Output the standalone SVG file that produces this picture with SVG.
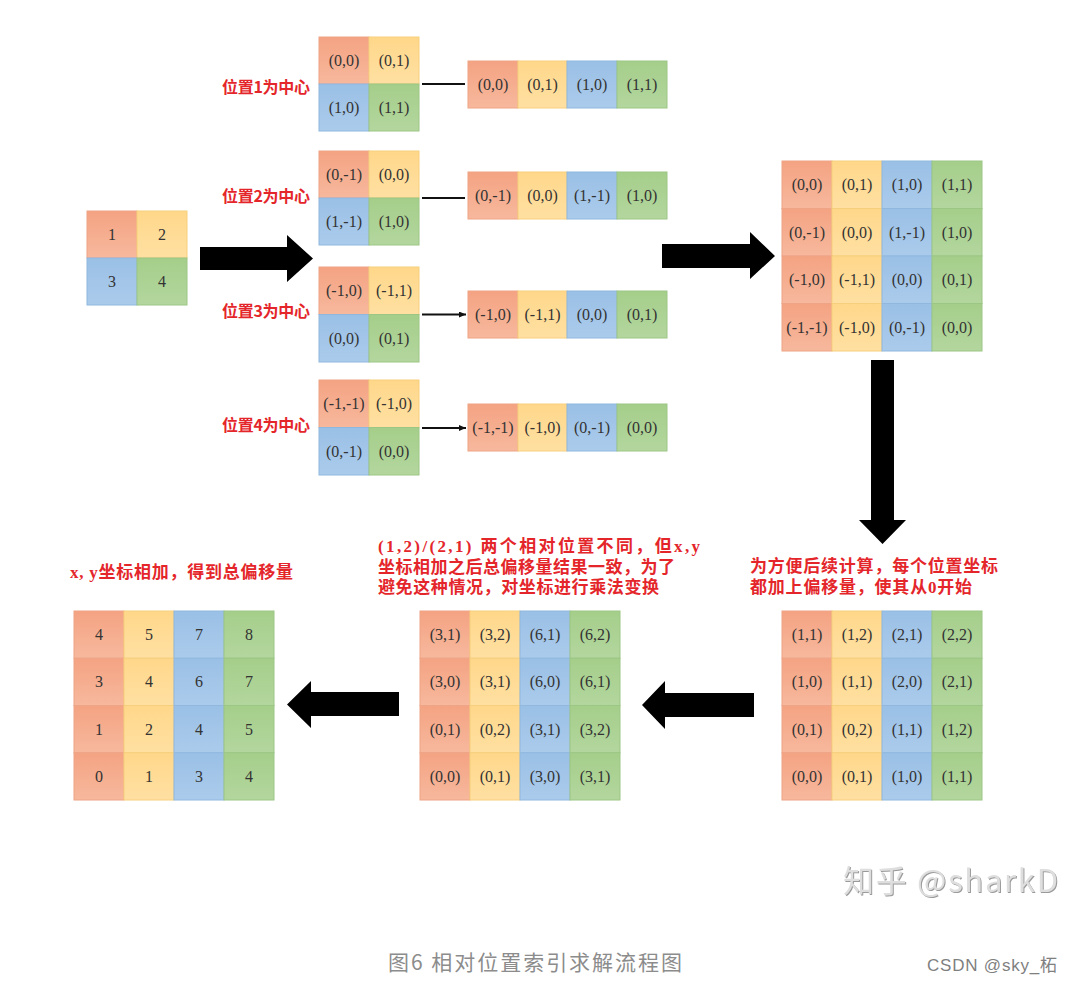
<svg xmlns="http://www.w3.org/2000/svg" width="1073" height="983" viewBox="0 0 1073 983">
<defs>
<linearGradient id="gO" x1="0" y1="0" x2="0" y2="1"><stop offset="0" stop-color="#F4A382"/><stop offset="1" stop-color="#F7B89D"/></linearGradient>
<linearGradient id="gY" x1="0" y1="0" x2="0" y2="1"><stop offset="0" stop-color="#FFD78A"/><stop offset="1" stop-color="#FFE0A2"/></linearGradient>
<linearGradient id="gB" x1="0" y1="0" x2="0" y2="1"><stop offset="0" stop-color="#9AC0E6"/><stop offset="1" stop-color="#ABCBEB"/></linearGradient>
<linearGradient id="gG" x1="0" y1="0" x2="0" y2="1"><stop offset="0" stop-color="#A5CE8A"/><stop offset="1" stop-color="#B3D69E"/></linearGradient>
<marker id="ah" markerWidth="7" markerHeight="6" refX="7" refY="3" orient="auto" markerUnits="userSpaceOnUse"><path d="M0,0 L7,3 L0,6z" fill="#111"/></marker>
<filter id="emb" x="-5%" y="-20%" width="110%" height="140%"><feDropShadow dx="1" dy="1" stdDeviation="0.6" flood-color="#9a9a9a"/></filter>
</defs>
<style>
.o{fill:url(#gO);stroke:#EEA486;stroke-width:1}
.y{fill:url(#gY);stroke:#F6CF7C;stroke-width:1}
.b{fill:url(#gB);stroke:#90B8DF;stroke-width:1}
.g{fill:url(#gG);stroke:#9CC684;stroke-width:1}
.t{font-family:"Liberation Serif",serif;font-size:16px;fill:#333;text-anchor:middle}
.lbl{font-family:"Noto Sans CJK SC",sans-serif;font-weight:bold;font-size:16px;fill:#E4262B}
.note{font-family:"Liberation Serif","Noto Sans CJK SC",serif;font-weight:bold;font-size:17px;fill:#E4262B}
.blk{fill:#000}
.ln{stroke:#111;stroke-width:2;fill:none}
</style>
<rect width="1073" height="983" fill="#fff"/>

<g id="src">
<rect class="o" x="87" y="211" width="50" height="47"/><rect class="y" x="137" y="211" width="50" height="47"/>
<rect class="b" x="87" y="258" width="50" height="47"/><rect class="g" x="137" y="258" width="50" height="47"/>
<text class="t" x="112" y="240">1</text><text class="t" x="162" y="240">2</text>
<text class="t" x="112" y="287">3</text><text class="t" x="162" y="287">4</text>
</g>

<g id="label1"><text class="lbl" x="222" y="93" textLength="88">位置1为中心</text></g>
<g id="label2"><text class="lbl" x="222" y="202" textLength="88">位置2为中心</text></g>
<g id="label3"><text class="lbl" x="222" y="317" textLength="88">位置3为中心</text></g>
<g id="label4"><text class="lbl" x="222" y="431" textLength="88">位置4为中心</text></g>

<g id="g1">
<rect class="o" x="319" y="37" width="50" height="47"/><rect class="y" x="369" y="37" width="50" height="47"/>
<rect class="b" x="319" y="84" width="50" height="47"/><rect class="g" x="369" y="84" width="50" height="47"/>
<text class="t" x="344" y="66">(0,0)</text><text class="t" x="394" y="66">(0,1)</text>
<text class="t" x="344" y="113">(1,0)</text><text class="t" x="394" y="113">(1,1)</text>
</g>
<g id="g2">
<rect class="o" x="319" y="151" width="50" height="47"/><rect class="y" x="369" y="151" width="50" height="47"/>
<rect class="b" x="319" y="198" width="50" height="47"/><rect class="g" x="369" y="198" width="50" height="47"/>
<text class="t" x="344" y="180">(0,-1)</text><text class="t" x="394" y="180">(0,0)</text>
<text class="t" x="344" y="227">(1,-1)</text><text class="t" x="394" y="227">(1,0)</text>
</g>
<g id="g3">
<rect class="o" x="319" y="267" width="50" height="47.5"/><rect class="y" x="369" y="267" width="50" height="47.5"/>
<rect class="b" x="319" y="314.5" width="50" height="47.5"/><rect class="g" x="369" y="314.5" width="50" height="47.5"/>
<text class="t" x="344" y="296.3">(-1,0)</text><text class="t" x="394" y="296.3">(-1,1)</text>
<text class="t" x="344" y="343.8">(0,0)</text><text class="t" x="394" y="343.8">(0,1)</text>
</g>
<g id="g4">
<rect class="o" x="319" y="380" width="50" height="47.5"/><rect class="y" x="369" y="380" width="50" height="47.5"/>
<rect class="b" x="319" y="427.5" width="50" height="47.5"/><rect class="g" x="369" y="427.5" width="50" height="47.5"/>
<text class="t" x="344" y="409.3">(-1,-1)</text><text class="t" x="394" y="409.3">(-1,0)</text>
<text class="t" x="344" y="456.8">(0,-1)</text><text class="t" x="394" y="456.8">(0,0)</text>
</g>

<g id="s1">
<rect class="o" x="468" y="61" width="50" height="47"/><rect class="y" x="518" y="61" width="49" height="47"/><rect class="b" x="567" y="61" width="50" height="47"/><rect class="g" x="617" y="61" width="50" height="47"/>
<text class="t" x="493" y="90">(0,0)</text><text class="t" x="542.5" y="90">(0,1)</text><text class="t" x="592" y="90">(1,0)</text><text class="t" x="642" y="90">(1,1)</text>
</g>
<g id="s2">
<rect class="o" x="468" y="172" width="50" height="47"/><rect class="y" x="518" y="172" width="49" height="47"/><rect class="b" x="567" y="172" width="50" height="47"/><rect class="g" x="617" y="172" width="50" height="47"/>
<text class="t" x="493" y="201">(0,-1)</text><text class="t" x="542.5" y="201">(0,0)</text><text class="t" x="592" y="201">(1,-1)</text><text class="t" x="642" y="201">(1,0)</text>
</g>
<g id="s3">
<rect class="o" x="468" y="291" width="50" height="47"/><rect class="y" x="518" y="291" width="49" height="47"/><rect class="b" x="567" y="291" width="50" height="47"/><rect class="g" x="617" y="291" width="50" height="47"/>
<text class="t" x="493" y="320">(-1,0)</text><text class="t" x="542.5" y="320">(-1,1)</text><text class="t" x="592" y="320">(0,0)</text><text class="t" x="642" y="320">(0,1)</text>
</g>
<g id="s4">
<rect class="o" x="468" y="404" width="50" height="47"/><rect class="y" x="518" y="404" width="49" height="47"/><rect class="b" x="567" y="404" width="50" height="47"/><rect class="g" x="617" y="404" width="50" height="47"/>
<text class="t" x="493" y="433">(-1,-1)</text><text class="t" x="542.5" y="433">(-1,0)</text><text class="t" x="592" y="433">(0,-1)</text><text class="t" x="642" y="433">(0,0)</text>
</g>

<g id="m1">
<rect class="o" x="782" y="161" width="50" height="47.5"/><rect class="y" x="832" y="161" width="50" height="47.5"/><rect class="b" x="882" y="161" width="50" height="47.5"/><rect class="g" x="932" y="161" width="50" height="47.5"/>
<rect class="o" x="782" y="208.5" width="50" height="47.5"/><rect class="y" x="832" y="208.5" width="50" height="47.5"/><rect class="b" x="882" y="208.5" width="50" height="47.5"/><rect class="g" x="932" y="208.5" width="50" height="47.5"/>
<rect class="o" x="782" y="256" width="50" height="47.5"/><rect class="y" x="832" y="256" width="50" height="47.5"/><rect class="b" x="882" y="256" width="50" height="47.5"/><rect class="g" x="932" y="256" width="50" height="47.5"/>
<rect class="o" x="782" y="303.5" width="50" height="47.5"/><rect class="y" x="832" y="303.5" width="50" height="47.5"/><rect class="b" x="882" y="303.5" width="50" height="47.5"/><rect class="g" x="932" y="303.5" width="50" height="47.5"/>
<text class="t" x="807" y="190.3">(0,0)</text><text class="t" x="857" y="190.3">(0,1)</text><text class="t" x="907" y="190.3">(1,0)</text><text class="t" x="957" y="190.3">(1,1)</text>
<text class="t" x="807" y="237.8">(0,-1)</text><text class="t" x="857" y="237.8">(0,0)</text><text class="t" x="907" y="237.8">(1,-1)</text><text class="t" x="957" y="237.8">(1,0)</text>
<text class="t" x="807" y="285.3">(-1,0)</text><text class="t" x="857" y="285.3">(-1,1)</text><text class="t" x="907" y="285.3">(0,0)</text><text class="t" x="957" y="285.3">(0,1)</text>
<text class="t" x="807" y="332.8">(-1,-1)</text><text class="t" x="857" y="332.8">(-1,0)</text><text class="t" x="907" y="332.8">(0,-1)</text><text class="t" x="957" y="332.8">(0,0)</text>
</g>

<g id="note1">
<text class="note" x="750" y="572" textLength="248">为方便后续计算，每个位置坐标</text>
<text class="note" x="750" y="593" textLength="222">都加上偏移量，使其从0开始</text>
</g>

<g id="m2">
<rect class="o" x="782" y="611" width="50" height="47.25"/><rect class="y" x="832" y="611" width="50" height="47.25"/><rect class="b" x="882" y="611" width="50" height="47.25"/><rect class="g" x="932" y="611" width="50" height="47.25"/>
<rect class="o" x="782" y="658.25" width="50" height="47.25"/><rect class="y" x="832" y="658.25" width="50" height="47.25"/><rect class="b" x="882" y="658.25" width="50" height="47.25"/><rect class="g" x="932" y="658.25" width="50" height="47.25"/>
<rect class="o" x="782" y="705.5" width="50" height="47.25"/><rect class="y" x="832" y="705.5" width="50" height="47.25"/><rect class="b" x="882" y="705.5" width="50" height="47.25"/><rect class="g" x="932" y="705.5" width="50" height="47.25"/>
<rect class="o" x="782" y="752.75" width="50" height="47.25"/><rect class="y" x="832" y="752.75" width="50" height="47.25"/><rect class="b" x="882" y="752.75" width="50" height="47.25"/><rect class="g" x="932" y="752.75" width="50" height="47.25"/>
<text class="t" x="807" y="640.1">(1,1)</text><text class="t" x="857" y="640.1">(1,2)</text><text class="t" x="907" y="640.1">(2,1)</text><text class="t" x="957" y="640.1">(2,2)</text>
<text class="t" x="807" y="687.4">(1,0)</text><text class="t" x="857" y="687.4">(1,1)</text><text class="t" x="907" y="687.4">(2,0)</text><text class="t" x="957" y="687.4">(2,1)</text>
<text class="t" x="807" y="734.6">(0,1)</text><text class="t" x="857" y="734.6">(0,2)</text><text class="t" x="907" y="734.6">(1,1)</text><text class="t" x="957" y="734.6">(1,2)</text>
<text class="t" x="807" y="781.9">(0,0)</text><text class="t" x="857" y="781.9">(0,1)</text><text class="t" x="907" y="781.9">(1,0)</text><text class="t" x="957" y="781.9">(1,1)</text>
</g>

<g id="note2">
<text class="note" x="378" y="552" textLength="322">(1,2)/(2,1) 两个相对位置不同，但x,y</text>
<text class="note" x="378" y="573" textLength="297">坐标相加之后总偏移量结果一致，为了</text>
<text class="note" x="378" y="593" textLength="281">避免这种情况，对坐标进行乘法变换</text>
</g>

<g id="m3">
<rect class="o" x="420" y="611" width="50" height="47.25"/><rect class="y" x="470" y="611" width="50" height="47.25"/><rect class="b" x="520" y="611" width="50" height="47.25"/><rect class="g" x="570" y="611" width="50" height="47.25"/>
<rect class="o" x="420" y="658.25" width="50" height="47.25"/><rect class="y" x="470" y="658.25" width="50" height="47.25"/><rect class="b" x="520" y="658.25" width="50" height="47.25"/><rect class="g" x="570" y="658.25" width="50" height="47.25"/>
<rect class="o" x="420" y="705.5" width="50" height="47.25"/><rect class="y" x="470" y="705.5" width="50" height="47.25"/><rect class="b" x="520" y="705.5" width="50" height="47.25"/><rect class="g" x="570" y="705.5" width="50" height="47.25"/>
<rect class="o" x="420" y="752.75" width="50" height="47.25"/><rect class="y" x="470" y="752.75" width="50" height="47.25"/><rect class="b" x="520" y="752.75" width="50" height="47.25"/><rect class="g" x="570" y="752.75" width="50" height="47.25"/>
<text class="t" x="445" y="640.1">(3,1)</text><text class="t" x="495" y="640.1">(3,2)</text><text class="t" x="545" y="640.1">(6,1)</text><text class="t" x="595" y="640.1">(6,2)</text>
<text class="t" x="445" y="687.4">(3,0)</text><text class="t" x="495" y="687.4">(3,1)</text><text class="t" x="545" y="687.4">(6,0)</text><text class="t" x="595" y="687.4">(6,1)</text>
<text class="t" x="445" y="734.6">(0,1)</text><text class="t" x="495" y="734.6">(0,2)</text><text class="t" x="545" y="734.6">(3,1)</text><text class="t" x="595" y="734.6">(3,2)</text>
<text class="t" x="445" y="781.9">(0,0)</text><text class="t" x="495" y="781.9">(0,1)</text><text class="t" x="545" y="781.9">(3,0)</text><text class="t" x="595" y="781.9">(3,1)</text>
</g>

<g id="note3">
<text class="note" x="70" y="578" textLength="223">x, y坐标相加，得到总偏移量</text>
</g>

<g id="m4">
<rect class="o" x="74" y="611" width="50" height="47.25"/><rect class="y" x="124" y="611" width="50" height="47.25"/><rect class="b" x="174" y="611" width="50" height="47.25"/><rect class="g" x="224" y="611" width="50" height="47.25"/>
<rect class="o" x="74" y="658.25" width="50" height="47.25"/><rect class="y" x="124" y="658.25" width="50" height="47.25"/><rect class="b" x="174" y="658.25" width="50" height="47.25"/><rect class="g" x="224" y="658.25" width="50" height="47.25"/>
<rect class="o" x="74" y="705.5" width="50" height="47.25"/><rect class="y" x="124" y="705.5" width="50" height="47.25"/><rect class="b" x="174" y="705.5" width="50" height="47.25"/><rect class="g" x="224" y="705.5" width="50" height="47.25"/>
<rect class="o" x="74" y="752.75" width="50" height="47.25"/><rect class="y" x="124" y="752.75" width="50" height="47.25"/><rect class="b" x="174" y="752.75" width="50" height="47.25"/><rect class="g" x="224" y="752.75" width="50" height="47.25"/>
<text class="t" x="99" y="640.1">4</text><text class="t" x="149" y="640.1">5</text><text class="t" x="199" y="640.1">7</text><text class="t" x="249" y="640.1">8</text>
<text class="t" x="99" y="687.4">3</text><text class="t" x="149" y="687.4">4</text><text class="t" x="199" y="687.4">6</text><text class="t" x="249" y="687.4">7</text>
<text class="t" x="99" y="734.6">1</text><text class="t" x="149" y="734.6">2</text><text class="t" x="199" y="734.6">4</text><text class="t" x="249" y="734.6">5</text>
<text class="t" x="99" y="781.9">0</text><text class="t" x="149" y="781.9">1</text><text class="t" x="199" y="781.9">3</text><text class="t" x="249" y="781.9">4</text>
</g>

<g id="connectors">
<polygon class="blk" points="200,247 287,247 287,235 313,258.5 287,282 287,270 200,270"/>
<polygon class="blk" points="662,244 750,244 750,232 775,256 750,279 750,268 662,268"/>
<polygon class="blk" points="871,360 894,360 894,520 906,520 882.5,544 859,520 871,520"/>
<polygon class="blk" points="754,693 665,693 665,681 642,705 665,729 665,717 754,717"/>
<polygon class="blk" points="399,692 311,692 311,681 287,704.5 311,728 311,716 399,716"/>
<line class="ln" x1="422" y1="84" x2="465" y2="84"/>
<line class="ln" x1="422" y1="198" x2="465" y2="198"/>
<line class="ln" x1="422" y1="314.5" x2="466" y2="314.5" marker-end="url(#ah)"/>
<line class="ln" x1="422" y1="428" x2="466" y2="428" marker-end="url(#ah)"/>
</g>

<g id="watermark">
<text x="843" y="892" textLength="215" filter="url(#emb)" style="font-family:'Noto Sans CJK SC',sans-serif;font-size:31px;fill:#dedede">知乎 @sharkD</text>
<text x="927" y="971" textLength="130" style="font-family:'Liberation Sans','Noto Sans CJK SC',sans-serif;font-size:17px;fill:#7f7f7f">CSDN @sky_柘</text>
</g>
<g id="caption">
<text x="388" y="970" textLength="294" style="font-family:'Noto Sans CJK SC',sans-serif;font-size:21px;fill:#8c8c8c">图6 相对位置索引求解流程图</text>
</g>
</svg>
